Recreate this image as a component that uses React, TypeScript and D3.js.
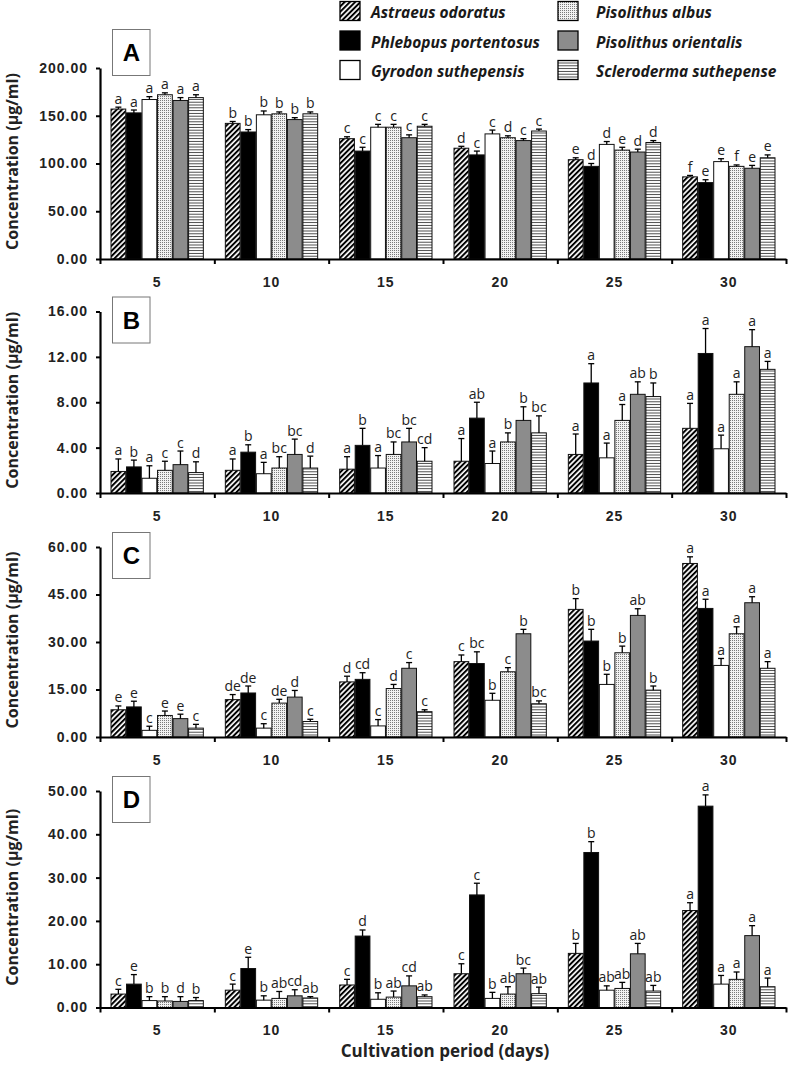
import React, { useEffect, useRef } from "react";
import * as d3 from "d3";

const days = ["5", "10", "15", "20", "25", "30"];
const species = [
  "Astraeus odoratus",
  "Phlebopus portentosus",
  "Gyrodon suthepensis",
  "Pisolithus albus",
  "Pisolithus orientalis",
  "Scleroderma suthepense",
];
const fills = ["url(#hatch)", "#000", "#fff", "url(#dots)", "#8c8c8c", "url(#hlines)"];

// rows = species, columns = days
const meansA = [
  [157, 142, 126, 116, 104, 86],
  [153, 133, 113, 109, 97, 80],
  [167, 151, 138, 131, 120, 102],
  [172, 152, 138, 127, 114, 97],
  [166, 146, 127, 124, 112, 95],
  [169, 152, 139, 134, 122, 106],
];
const errA = [
  [2, 2, 2, 2, 2, 1.5],
  [3, 2.5, 4, 4, 3, 3],
  [3, 4, 3, 4, 3, 3],
  [2, 2, 3, 2, 3, 1.5],
  [3, 2, 3, 2, 3, 3],
  [3, 2, 2, 2, 2, 3],
];
const lettersA = [
  ["a", "b", "c", "d", "e", "f"],
  ["a", "b", "c", "c", "d", "e"],
  ["a", "b", "c", "c", "d", "e"],
  ["a", "b", "c", "d", "e", "f"],
  ["a", "b", "c", "c", "d", "e"],
  ["a", "b", "c", "c", "d", "e"],
];

const meansB = [
  [1.9, 2.0, 2.1, 2.8, 3.4, 5.7],
  [2.3, 3.6, 4.2, 6.6, 9.7, 12.3],
  [1.3, 1.7, 2.2, 2.6, 3.1, 3.9],
  [2.0, 2.2, 3.4, 4.5, 6.4, 8.7],
  [2.5, 3.4, 4.5, 6.4, 8.7, 12.9],
  [1.8, 2.2, 2.8, 5.3, 8.5, 10.9],
];
const errB = [
  [1.1, 1.0, 1.1, 2.0, 1.8, 2.2],
  [0.6, 0.65, 1.5, 1.4, 1.7, 2.2],
  [1.1, 1.0, 1.1, 1.1, 1.3, 1.2],
  [0.8, 1.0, 1.1, 0.8, 1.4, 1.1],
  [1.2, 1.35, 1.2, 1.2, 1.1, 1.5],
  [0.95, 1.05, 1.2, 1.5, 1.2, 0.7],
];
const lettersB = [
  ["a", "a", "a", "a", "a", "a"],
  ["b", "b", "b", "ab", "a", "a"],
  ["a", "a", "a", "a", "a", "a"],
  ["c", "bc", "bc", "b", "a", "a"],
  ["c", "bc", "bc", "b", "ab", "a"],
  ["d", "d", "cd", "bc", "b", "a"],
];

const meansC = [
  [8.6, 11.8, 17.4, 23.8, 40.3, 54.8],
  [9.5, 13.9, 18.2, 23.2, 30.3, 40.6],
  [2.1, 2.8, 3.5, 11.6, 16.6, 22.6],
  [6.8, 10.7, 15.3, 20.6, 26.6, 32.6],
  [5.8, 12.6, 21.7, 32.6, 38.4, 42.4],
  [2.8, 4.9, 8.0, 10.5, 14.8, 21.7],
];
const errC = [
  [1.2, 1.6, 1.8, 2.1, 3.4, 2.1],
  [1.8, 2.2, 2.1, 3.7, 3.7, 2.9],
  [1.3, 1.4, 2.0, 2.2, 3.2, 2.2],
  [1.4, 1.2, 1.3, 1.3, 2.1, 2.2],
  [1.4, 2.1, 1.8, 1.4, 2.1, 1.9],
  [1.2, 0.7, 0.6, 0.9, 1.3, 2.1],
];
const lettersC = [
  ["e", "de", "d", "c", "b", "a"],
  ["e", "de", "cd", "bc", "b", "a"],
  ["c", "c", "c", "b", "b", "a"],
  ["e", "de", "d", "c", "b", "a"],
  ["e", "d", "c", "b", "ab", "a"],
  ["c", "c", "c", "bc", "b", "a"],
];

const meansD = [
  [3.1, 4.0, 5.2, 7.8, 12.5, 22.4],
  [5.4, 9.0, 16.5, 26.0, 35.8, 46.5],
  [1.6, 1.7, 1.9, 2.1, 4.0, 5.4],
  [1.5, 2.1, 2.4, 3.1, 4.4, 6.5],
  [1.4, 2.7, 5.0, 7.8, 12.4, 16.6],
  [1.6, 2.2, 2.5, 3.2, 3.8, 4.8],
];
const errD = [
  [1.1, 1.4, 1.3, 2.3, 2.3, 1.8],
  [2.2, 2.6, 1.4, 2.7, 2.5, 2.6],
  [0.9, 1.0, 1.5, 1.4, 1.0, 2.0],
  [1.0, 1.6, 1.4, 1.7, 1.4, 1.7],
  [1.1, 1.4, 2.3, 1.3, 2.4, 2.3],
  [0.7, 0.3, 0.4, 1.5, 1.3, 2.0],
];
const lettersD = [
  ["c", "c", "c", "c", "b", "a"],
  ["e", "e", "d", "c", "b", "a"],
  ["b", "b", "b", "b", "ab", "a"],
  ["b", "ab", "ab", "ab", "ab", "a"],
  ["d", "cd", "cd", "bc", "ab", "a"],
  ["b", "ab", "ab", "ab", "ab", "a"],
];

const ticksA = [0, 50, 100, 150, 200];
const ticksB = [0, 4, 8, 12, 16];
const ticksC = [0, 15, 30, 45, 60];
const ticksD = [0, 10, 20, 30, 40, 50];

const panels = [
  { name: "A", ticks: ticksA, means: meansA, errs: errA, letters: lettersA, y0: 259, y1: 68 },
  { name: "B", ticks: ticksB, means: meansB, errs: errB, letters: lettersB, y0: 493, y1: 311.5 },
  { name: "C", ticks: ticksC, means: meansC, errs: errC, letters: lettersC, y0: 737, y1: 547 },
  { name: "D", ticks: ticksD, means: meansD, errs: errD, letters: lettersD, y0: 1007.5, y1: 791 },
];

const App: React.FC = () => {
  const svgRef = useRef<SVGSVGElement | null>(null);

  useEffect(() => {
    if (!svgRef.current) return;
    const width = 794;
    const height = 1065;
    const svg = d3.select(svgRef.current);
    svg.selectAll("*").remove();
    svg.attr("width", width).attr("height", height);

    const defs = svg.append("defs");
    const hatch = defs.append("pattern").attr("id", "hatch").attr("patternUnits", "userSpaceOnUse")
      .attr("width", 3.7).attr("height", 3.7).attr("patternTransform", "rotate(45)");
    hatch.append("rect").attr("width", 3.7).attr("height", 3.7).attr("fill", "#fff");
    hatch.append("line").attr("x1", 1).attr("x2", 1).attr("y1", 0).attr("y2", 3.7)
      .attr("stroke", "#000").attr("stroke-width", 2);

    const dots = defs.append("pattern").attr("id", "dots").attr("patternUnits", "userSpaceOnUse")
      .attr("width", 2).attr("height", 2);
    dots.append("rect").attr("width", 2).attr("height", 2).attr("fill", "#f2f2f2");
    dots.append("rect").attr("width", 1).attr("height", 1).attr("fill", "#7a7a7a");

    const hl = defs.append("pattern").attr("id", "hlines").attr("patternUnits", "userSpaceOnUse")
      .attr("width", 4).attr("height", 2.8);
    hl.append("rect").attr("width", 4).attr("height", 2.8).attr("fill", "#fff");
    hl.append("line").attr("x1", 0).attr("x2", 4).attr("y1", 1.4).attr("y2", 1.4)
      .attr("stroke", "#333").attr("stroke-width", 0.9);

    const x = d3.scaleBand<string>().domain(days).range([100, 786]).padding(0);
    const inner = d3.scaleBand<number>().domain(d3.range(species.length))
      .range([11, x.bandwidth() - 11]).paddingInner(0.05);
    const xEdge = d3.scaleLinear().domain([0, days.length]).range([100, 786]);

    panels.forEach((p) => {
      const y = d3.scaleLinear().domain([0, p.ticks[p.ticks.length - 1]]).range([p.y0, p.y1]);
      const g = svg.append("g");

      // bars
      p.means.forEach((row, si) => {
        row.forEach((v, di) => {
          const bx = x(days[di])! + inner(si)!;
          const bw = inner.bandwidth();
          g.append("rect")
            .attr("x", bx).attr("y", y(v))
            .attr("width", bw).attr("height", y(0) - y(v))
            .attr("fill", fills[si]).attr("stroke", "#111").attr("stroke-width", 1);
          const cx = bx + bw / 2;
          const top = y(v + p.errs[si][di]);
          g.append("line").attr("x1", cx).attr("x2", cx).attr("y1", y(v)).attr("y2", top)
            .attr("stroke", "#000").attr("stroke-width", 1.3);
          g.append("line").attr("x1", cx - 3).attr("x2", cx + 3).attr("y1", top).attr("y2", top)
            .attr("stroke", "#000").attr("stroke-width", 1.3);
          g.append("text").attr("x", cx).attr("y", top - 3.5)
            .attr("text-anchor", "middle")
            .attr("font-family", "'Open Sans', sans-serif").attr("font-size", 14)
            .attr("fill", "#222")
            .text(p.letters[si][di]);
        });
      });

      // y axis
      const ya = g.append("g").attr("transform", "translate(100,0)")
        .call(d3.axisLeft(y).tickValues(p.ticks).tickSize(4).tickSizeOuter(0).tickPadding(8)
          .tickFormat((d) => (d as number).toFixed(2)));
      ya.select(".domain").attr("stroke-width", 2.2);
      ya.selectAll(".tick line").attr("stroke-width", 2);
      ya.selectAll("text").attr("font-family", "'Liberation Sans', Arial, sans-serif")
        .attr("font-weight", "bold").attr("font-size", 14).attr("letter-spacing", 1).attr("fill", "#222");

      // x axis line and boundary ticks
      const xa = g.append("g").attr("transform", `translate(0,${p.y0})`)
        .call(d3.axisBottom(xEdge).tickValues(d3.range(days.length + 1)).tickSize(5).tickSizeOuter(0)
          .tickFormat(() => ""));
      xa.select(".domain").attr("stroke-width", 2.2);
      xa.selectAll(".tick line").attr("stroke-width", 2);

      const xl = g.append("g").attr("transform", `translate(0,${p.y0})`)
        .call(d3.axisBottom(x).tickSize(0).tickPadding(18));
      xl.select(".domain").remove();
      xl.selectAll("text").attr("font-family", "'Liberation Sans', Arial, sans-serif")
        .attr("font-weight", "bold").attr("font-size", 14).attr("letter-spacing", 1).attr("fill", "#222");

      // panel letter box
      const boxTop = p.name === "A" ? 29.5 : p.y1 - 14.5;
      g.append("rect").attr("x", 112.5).attr("y", boxTop).attr("width", 37.5).attr("height", 46)
        .attr("fill", "#fff").attr("stroke", "#777").attr("stroke-width", 1);
      g.append("text").attr("x", 131.5).attr("y", boxTop + 31.5).attr("text-anchor", "middle")
        .attr("font-family", "'Liberation Sans', Arial, sans-serif").attr("font-weight", "bold")
        .attr("font-size", 24).text(p.name);

      // y title
      g.append("text")
        .attr("transform", `translate(18,${(p.y0 + p.y1) / 2 - 2}) rotate(-90)`)
        .attr("text-anchor", "middle")
        .attr("font-family", "'Open Sans', sans-serif").attr("font-weight", 700)
        .attr("font-size", 16).attr("fill", "#222")
        .text("Concentration (µg/ml)");
    });

    // x title
    svg.append("text").attr("x", 445).attr("y", 1057).attr("text-anchor", "middle")
      .attr("font-family", "'Open Sans', sans-serif").attr("font-weight", 700)
      .attr("font-size", 17).attr("fill", "#222")
      .text("Cultivation period (days)");

    // legend
    const legX = [340, 558];
    const textX = [371, 596];
    const rowY = [1.5, 31, 60.5];
    species.forEach((s, i) => {
      const col = Math.floor(i / 3);
      const row = i % 3;
      const lg = svg.append("g");
      lg.append("rect").attr("x", legX[col]).attr("y", rowY[row]).attr("width", 20).attr("height", 19)
        .attr("fill", fills[i]).attr("stroke", "#000").attr("stroke-width", 1.3);
      lg.append("text").attr("x", textX[col]).attr("y", rowY[row] + 16.5)
        .attr("font-family", "'Open Sans', sans-serif").attr("font-style", "italic")
        .attr("font-weight", "bold").attr("font-size", 15.5).attr("fill", "#1a1a1a")
        .text(s);
    });
  }, []);

  return (
    <svg
      ref={svgRef}
      style={{ position: "absolute", left: 0, top: 0, background: "#fff", display: "block" }}
    ></svg>
  );
};

export default App;
